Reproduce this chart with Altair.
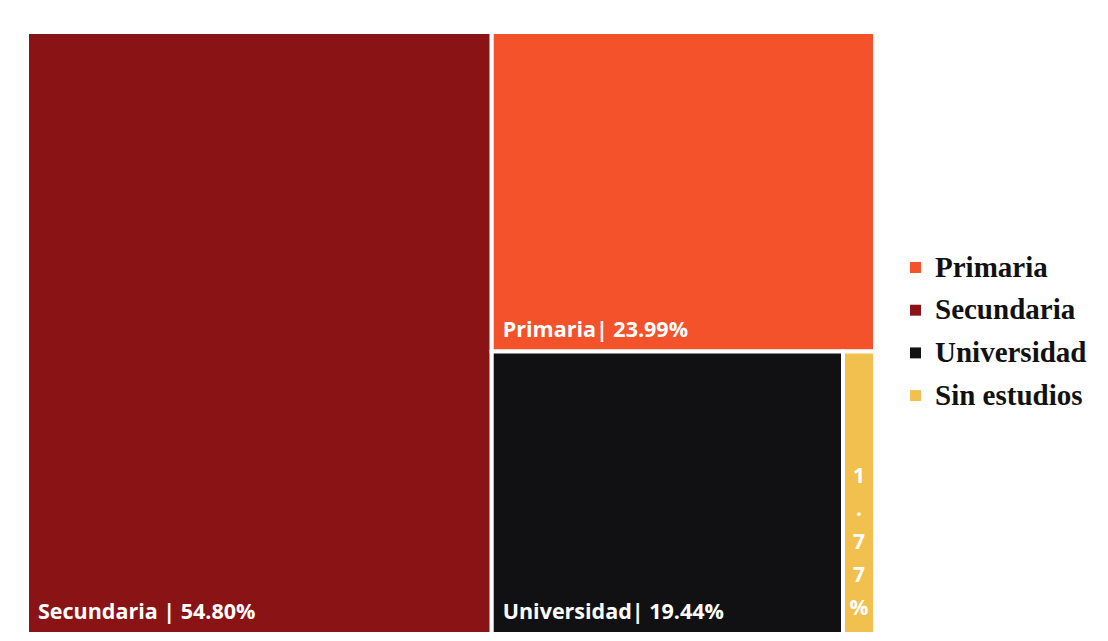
import altair as alt
import pandas as pd

categories = ["Secundaria", "Primaria", "Universidad", "Sin estudios"]
values = [54.80, 23.99, 19.44, 1.77]
labels = ["Secundaria | 54.80%", "Primaria| 23.99%", "Universidad| 19.44%", "1\n.\n7\n7\n%"]
legend_order = ["Primaria", "Secundaria", "Universidad", "Sin estudios"]
colors = ["#F3522A", "#8A1315", "#111114", "#F2C04E"]

# slice-and-dice treemap layout computed from the values
total = sum(values)
v0, v1, v2, v3 = values
a = v0 / total
rest = v1 + v2 + v3
py = v1 / rest
ux = a + (1 - a) * v2 / (v2 + v3)
rects = [
    (0.0, a, 0.0, 1.0),
    (a, 1.0, 0.0, py),
    (a, ux, py, 1.0),
    (ux, 1.0, py, 1.0),
]
df = pd.DataFrame({
    "cat": categories,
    "value": values,
    "label": labels,
    "x0": [r[0] for r in rects],
    "x1": [r[1] for r in rects],
    "y0": [r[2] for r in rects],
    "y1": [r[3] for r in rects],
})
df["xc"] = (df["x0"] + df["x1"]) / 2

xs = alt.Scale(domain=[0, 1], nice=False, zero=False)
ys = alt.Scale(domain=[0, 1], nice=False, zero=False, reverse=True)

base = alt.Chart(df)

rect = base.mark_rect(stroke="white", strokeWidth=4).encode(
    x=alt.X("x0:Q", scale=xs, axis=None),
    x2="x1:Q",
    y=alt.Y("y0:Q", scale=ys, axis=None),
    y2="y1:Q",
    color=alt.Color(
        "cat:N",
        scale=alt.Scale(domain=legend_order, range=colors),
        sort=legend_order,
        legend=alt.Legend(
            title=None,
            orient="none",
            legendX=874,
            legendY=221,
            symbolType="square",
            symbolSize=120,
            symbolStrokeWidth=0,
            labelFont="Liberation Serif",
            labelFontWeight="bold",
            labelFontSize=29,
            labelColor="#111111",
            labelOffset=5,
            rowPadding=12.7,
            labelLimit=300,
        ),
    ),
)

txt = base.transform_filter(alt.datum.cat != "Sin estudios").mark_text(
    align="left", baseline="alphabetic", dx=11, dy=-15,
    font="Open Sans", fontWeight="bold", fontSize=21.5, color="white",
).encode(
    x=alt.X("x0:Q", scale=xs),
    y=alt.Y("y1:Q", scale=ys),
    text="label:N",
)

vtxt = base.transform_filter(alt.datum.cat == "Sin estudios").mark_text(
    align="center", baseline="top", dy=-168, lineBreak="\n", lineHeight=33,
    font="Open Sans", fontWeight="bold", fontSize=21, color="white",
).encode(
    x=alt.X("xc:Q", scale=xs),
    y=alt.Y("y1:Q", scale=ys),
    text="label:N",
)

chart = (rect + vtxt + txt).properties(
    width=848, height=602,
    padding={"left": 25, "top": 30, "right": 5, "bottom": 5},
    background="white",
).configure_view(stroke=None)

chart.save("out.html", embed_options={"renderer": "svg", "actions": False})
